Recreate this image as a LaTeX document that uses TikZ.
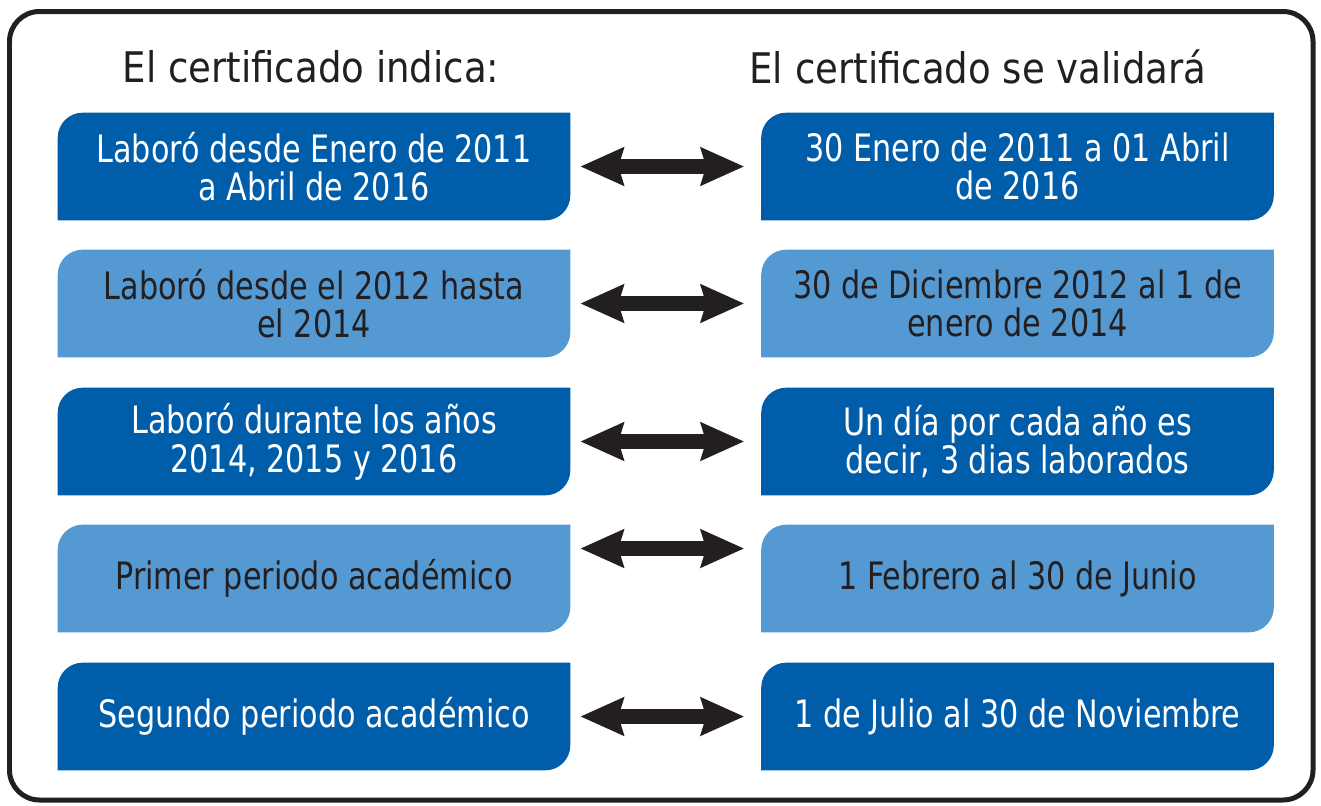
\documentclass[tikz,border=0pt]{standalone}
\usepackage{fontspec}
\setmainfont{DejaVu Sans}[FakeStretch=0.8]
\newfontfamily\titlefont{DejaVu Sans}[FakeStretch=0.88]
\usetikzlibrary{arrows.meta,backgrounds}

\definecolor{darkblue}{HTML}{005DAA}
\definecolor{lightblue}{HTML}{5599D3}
\definecolor{ink}{HTML}{231F20}

\def\boxfont{\fontsize{21.5}{22}\selectfont}

\begin{document}
\begin{tikzpicture}[x=0.02cm,y=-0.02cm]
    \tikzstyle{period}=[minimum width=10.24cm,minimum height=2.14cm,inner sep=0pt,align=center,font=\boxfont]
    \tikzstyle{dark}=[period,text=white]
    \tikzstyle{light}=[period,text=ink]
    \tikzstyle{title}=[font=\titlefont\fontsize{24}{28}\selectfont,text=ink]
    \tikzstyle{link}=[ink,line width=0.3cm,{Stealth[length=0.86cm,width=0.74cm,inset=0.1cm]}-{Stealth[length=0.86cm,width=0.74cm,inset=0.1cm]},shorten <=0.2cm,shorten >=0.34cm]

    \useasboundingbox (0,0) rectangle (1321,805);
    \draw[ink,line width=0.1cm,rounded corners=0.6cm] (9.5,11.5) rectangle (1313,800);

    \node[title] (tl) at (311,67) {El certificado indica:};
    \node[title] (tr) at (978,67) {El certificado se validará};

    % what the certificate says
    \node[dark]  (l1) at (314,166.5) {Laboró desde Enero de 2011\\a Abril de 2016};
    \node[light] (l2) at (314,303.5) {Laboró desde el 2012 hasta\\el 2014};
    \node[dark]  (l3) at (314,441.5) {Laboró durante los años\\2014, 2015 y 2016};
    \node[light] (l4) at (314,578.5) {Primer periodo académico};
    \node[dark]  (l5) at (314,716.5) {Segundo periodo académico};

    % how it is validated
    \node[dark]  (r1) at (1017.5,166.5) {30 Enero de 2011 a 01 Abril\\de 2016};
    \node[light] (r2) at (1017.5,303.5) {30 de Diciembre 2012 al 1 de\\enero de 2014};
    \node[dark]  (r3) at (1017.5,441.5) {Un día por cada año es\\decir, 3 dias laborados};
    \node[light] (r4) at (1017.5,578.5) {1 Febrero al 30 de Junio};
    \node[dark]  (r5) at (1017.5,716.5) {1 de Julio al 30 de Noviembre};

    \begin{scope}[on background layer]
        \foreach \n/\c in {l1/darkblue,l2/lightblue,l3/darkblue,l4/lightblue,l5/darkblue,
                           r1/darkblue,r2/lightblue,r3/darkblue,r4/lightblue,r5/darkblue}
            \fill[\c] (\n.south west) -- ([yshift=-0.5cm]\n.north west)
                arc[start angle=180,end angle=90,radius=0.5cm] -- (\n.north east)
                -- ([yshift=0.5cm]\n.south east)
                arc[start angle=0,end angle=-90,radius=0.5cm] -- cycle;
    \end{scope}

    \draw[link] (l1) -- (r1);
    \draw[link] (l2) -- (r2);
    \draw[link] (l3) -- (r3);
    \draw[link] ([yshift=0.6cm]l4.east) -- ([yshift=0.6cm]r4.west);
    \draw[link] (l5) -- (r5);
\end{tikzpicture}
\end{document}
